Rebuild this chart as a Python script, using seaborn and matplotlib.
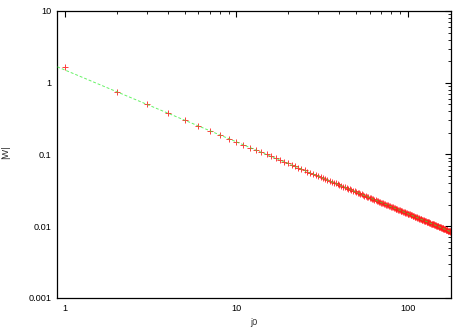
import numpy as np
import matplotlib
matplotlib.use("Agg")
import matplotlib.pyplot as plt
import matplotlib.ticker as mticker
import seaborn as sns

# ------------------------------------------------
# Data
# ------------------------------------------------
j0 = list(range(1, 181))
w_abs = [
    1.64, 0.750, 0.500, 0.375, 0.300, 0.250, 0.214, 0.188, 0.167, 0.150,
    0.136, 0.125, 0.115, 0.107, 0.100, 0.0938, 0.0882, 0.0833, 0.0789, 0.0750,
    0.0714, 0.0682, 0.0652, 0.0625, 0.0600, 0.0577, 0.0556, 0.0536, 0.0517, 0.0500,
    0.0484, 0.0469, 0.0455, 0.0441, 0.0429, 0.0417, 0.0405, 0.0395, 0.0385, 0.0375,
    0.0366, 0.0357, 0.0349, 0.0341, 0.0333, 0.0326, 0.0319, 0.0313, 0.0306, 0.0300,
    0.0294, 0.0288, 0.0283, 0.0278, 0.0273, 0.0268, 0.0263, 0.0259, 0.0254, 0.0250,
    0.0246, 0.0242, 0.0238, 0.0234, 0.0231, 0.0227, 0.0224, 0.0221, 0.0217, 0.0214,
    0.0211, 0.0208, 0.0205, 0.0203, 0.0200, 0.0197, 0.0195, 0.0192, 0.0190, 0.0188,
    0.0185, 0.0183, 0.0181, 0.0179, 0.0176, 0.0174, 0.0172, 0.0170, 0.0169, 0.0167,
    0.0165, 0.0163, 0.0161, 0.0160, 0.0158, 0.0156, 0.0155, 0.0153, 0.0152, 0.0150,
    0.0149, 0.0147, 0.0146, 0.0144, 0.0143, 0.0142, 0.0140, 0.0139, 0.0138, 0.0136,
    0.0135, 0.0134, 0.0133, 0.0132, 0.0130, 0.0129, 0.0128, 0.0127, 0.0126, 0.0125,
    0.0124, 0.0123, 0.0122, 0.0121, 0.0120, 0.0119, 0.0118, 0.0117, 0.0116, 0.0115,
    0.0115, 0.0114, 0.0113, 0.0112, 0.0111, 0.0110, 0.0109, 0.0109, 0.0108, 0.0107,
    0.0106, 0.0106, 0.0105, 0.0104, 0.0103, 0.0103, 0.0102, 0.0101, 0.0101, 0.0100,
    0.00993, 0.00987, 0.00980, 0.00974, 0.00968, 0.00962, 0.00955, 0.00949, 0.00943, 0.00938,
    0.00932, 0.00926, 0.00920, 0.00915, 0.00909, 0.00904, 0.00898, 0.00893, 0.00888, 0.00882,
    0.00877, 0.00872, 0.00867, 0.00862, 0.00857, 0.00852, 0.00847, 0.00843, 0.00838, 0.00833,
]

# power-law fit |W| = a * j0^b
fit_a = 1.5
fit_b = -1.0

x_range = [0.9, 180]
y_range = [0.001, 10]
x_ticks = [1, 10, 100]
y_ticks = [0.001, 0.01, 0.1, 1, 10]

# ------------------------------------------------
# Plot
# ------------------------------------------------
sns.set_style("white")
plt.rcParams['font.family'] = ['Liberation Sans', 'DejaVu Sans']
FS = 6.6

fig = plt.figure(figsize=(4.67, 3.27), dpi=100)
ax = fig.add_axes([0.1227, 0.0887, 0.8437, 0.8777])

# data points first, fit line on top (gnuplot draw order)
sns.scatterplot(x=j0, y=w_abs, ax=ax, marker='+', color='#ff1a1a', s=22,
                linewidth=0.7, alpha=0.85, zorder=2)
fit_x = np.geomspace(x_range[0], x_range[1], 50)
fit_y = fit_a * fit_x ** fit_b
sns.lineplot(x=fit_x, y=fit_y, ax=ax, color='#33ee33', linewidth=0.7,
             linestyle=(0, (3, 2)), alpha=0.75, zorder=3)

ax.set_xscale('log')
ax.set_yscale('log')
ax.set_xlim(x_range)
ax.set_ylim(y_range)

ax.xaxis.set_major_locator(mticker.FixedLocator(x_ticks))
ax.yaxis.set_major_locator(mticker.FixedLocator(y_ticks))
ax.xaxis.set_minor_locator(mticker.LogLocator(base=10, subs=np.arange(2, 10)))
ax.yaxis.set_minor_locator(mticker.LogLocator(base=10, subs=np.arange(2, 10)))
fmt = mticker.FuncFormatter(lambda v, p: f"{v:g}")
ax.xaxis.set_major_formatter(fmt)
ax.yaxis.set_major_formatter(fmt)
ax.xaxis.set_minor_formatter(mticker.NullFormatter())
ax.yaxis.set_minor_formatter(mticker.NullFormatter())

ax.tick_params(which='both', direction='in', top=True, right=True,
               labelsize=FS, colors='black', pad=4)
ax.tick_params(which='major', length=4, width=0.8)
ax.tick_params(which='minor', length=2, width=0.6)

for s in ax.spines.values():
    s.set_color('black')
    s.set_linewidth(0.9)

ax.set_xlabel('j0', fontsize=FS)
ax.set_ylabel('|W|', fontsize=FS)
ax.xaxis.set_label_coords(0.544, 0.028, transform=fig.transFigure)
ax.yaxis.set_label_coords(0.022, 0.535, transform=fig.transFigure)

fig.savefig("out.png", dpi=100)
